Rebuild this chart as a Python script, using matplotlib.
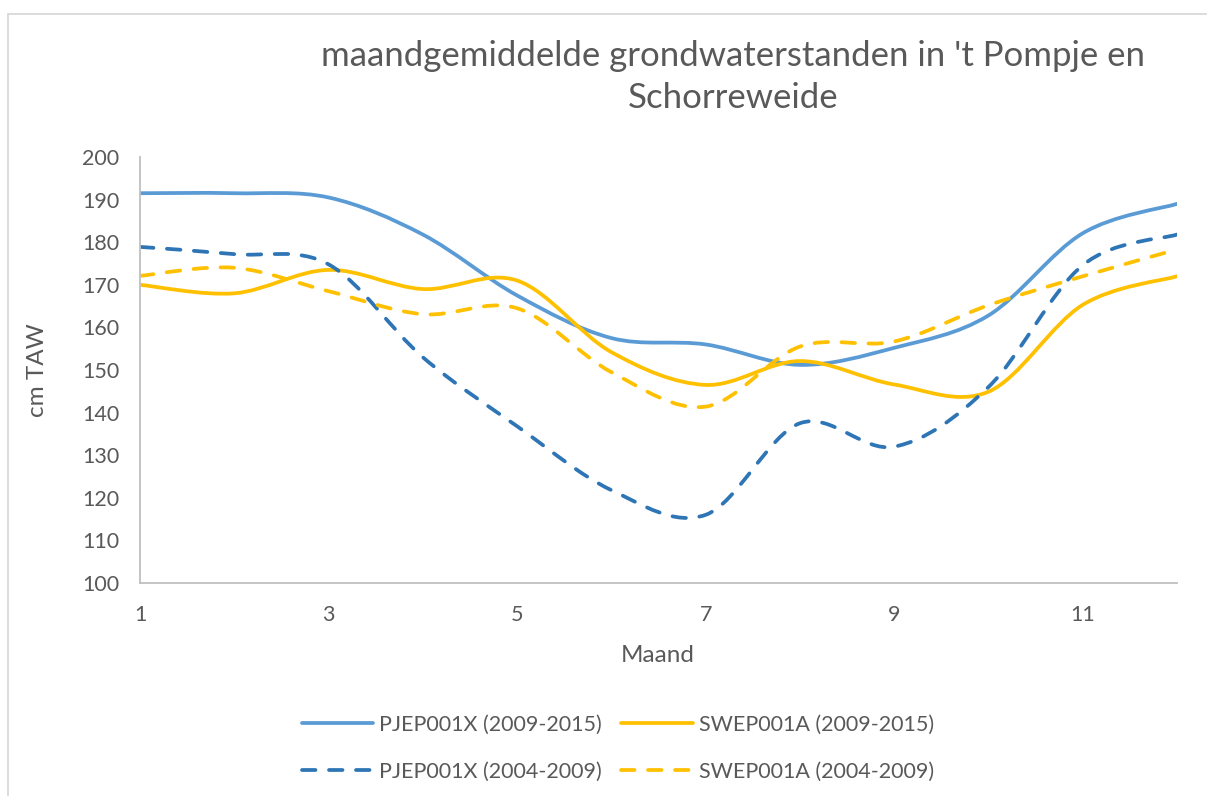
import matplotlib
matplotlib.use("Agg")
import matplotlib.pyplot as plt
from matplotlib.path import Path
from matplotlib.patches import PathPatch, Rectangle
from matplotlib.lines import Line2D

months = [1, 2, 3, 4, 5, 6, 7, 8, 9, 10, 11, 12]
pjep_2009_2015 = [191.5, 191.5, 190.5, 181.8, 167.5, 157.5, 156.0, 151.2, 155.2, 162.8, 182.1, 189.0]
swep_2009_2015 = [170.0, 168.0, 173.5, 169.0, 171.0, 154.2, 146.5, 152.1, 146.6, 144.9, 165.3, 172.0]
pjep_2004_2009 = [178.9, 177.2, 174.8, 153.0, 136.8, 121.8, 116.0, 137.5, 132.0, 146.0, 174.6, 181.8]
swep_2004_2009 = [172.1, 174.0, 168.5, 163.1, 164.5, 149.5, 141.4, 155.5, 156.7, 165.2, 172.0, 178.3]
labels = ["PJEP001X (2009-2015)", "SWEP001A (2009-2015)",
          "PJEP001X (2004-2009)", "SWEP001A (2004-2009)"]
title = "maandgemiddelde grondwaterstanden in 't Pompje en\nSchorreweide"

FONT = "Lato"
TXT = "#595959"
BLUE = "#5B9BD5"
DBLUE = "#2E75B6"
GOLD = "#FFC000"
LW = 2.7
DASH = (0, (3.6, 3.6))


def smooth_path(x, y):
    """Excel-like smoothed line: cubic Bezier segments through the data points."""
    n = len(x)
    verts = [(x[0], y[0])]
    codes = [Path.MOVETO]
    for i in range(n - 1):
        p0 = i - 1 if i > 0 else i
        p3 = i + 2 if i + 2 < n else i + 1
        c1 = (x[i] + (x[i + 1] - x[p0]) / 6.0, y[i] + (y[i + 1] - y[p0]) / 6.0)
        c2 = (x[i + 1] - (x[p3] - x[i]) / 6.0, y[i + 1] - (y[p3] - y[i]) / 6.0)
        verts += [c1, c2, (x[i + 1], y[i + 1])]
        codes += [Path.CURVE4] * 3
    return Path(verts, codes)


fig = plt.figure(figsize=(12.07, 7.96), dpi=100)
W, H = 1207, 796
ax = fig.add_axes([140 / W, 1 - 583 / H, (1177 - 140) / W, (583 - 157) / H])

series = [
    (pjep_2009_2015, BLUE, "-"),
    (swep_2009_2015, GOLD, "-"),
    (pjep_2004_2009, DBLUE, DASH),
    (swep_2004_2009, GOLD, DASH),
]
handles = []
for (vals, col, ls), lab in zip(series, labels):
    patch = PathPatch(smooth_path(months, vals), fill=False, edgecolor=col,
                      lw=LW, linestyle=ls, transform=ax.transData)
    patch.set_capstyle("round")
    patch.set_joinstyle("round")
    ax.add_patch(patch)
    h = Line2D([], [], color=col, lw=LW, linestyle=ls,
               solid_capstyle="round", dash_capstyle="round")
    handles.append((h, lab))

ax.set_xlim(1, 12)
ax.set_ylim(100, 200)
ax.set_xticks([1, 3, 5, 7, 9, 11])
ax.set_yticks(range(100, 201, 10))
for s in ["top", "right"]:
    ax.spines[s].set_visible(False)
for s in ["left", "bottom"]:
    ax.spines[s].set_color("#BFBFBF")
    ax.spines[s].set_linewidth(1.3)
ax.tick_params(axis="both", length=0, labelsize=15.5, labelcolor=TXT)
ax.tick_params(axis="x", pad=16)
ax.tick_params(axis="y", pad=15)
for t in ax.get_xticklabels() + ax.get_yticklabels():
    t.set_fontfamily(FONT)

fig.text(37 / W, 1 - 370 / H, "cm TAW", rotation=90, ha="center", va="center",
         fontsize=17.5, color=TXT, family=FONT)
fig.text(658 / W, 1 - 655 / H, "Maand", ha="center", va="center",
         fontsize=17.5, color=TXT, family=FONT)
fig.text(733 / W, 1 - 77 / H, title, ha="center", va="center",
         fontsize=25, color=TXT, family=FONT, linespacing=1.4)

# chart-area border
fig.add_artist(Rectangle((8 / W, -0.1), 1.2, 1 - 14 / H + 0.1, transform=fig.transFigure,
                         fill=False, edgecolor="#D9D9D9", lw=1.3))

order = [0, 2, 1, 3]
leg = fig.legend([handles[i][0] for i in order], [handles[i][1] for i in order],
                 ncol=2, loc="center", bbox_to_anchor=(618 / W, 1 - 748 / H),
                 frameon=False, prop={"family": FONT, "size": 15.5},
                 handlelength=3.3, handletextpad=0.3, columnspacing=0.9,
                 labelspacing=1.25, labelcolor=TXT)

fig.savefig("out.png", dpi=100)
